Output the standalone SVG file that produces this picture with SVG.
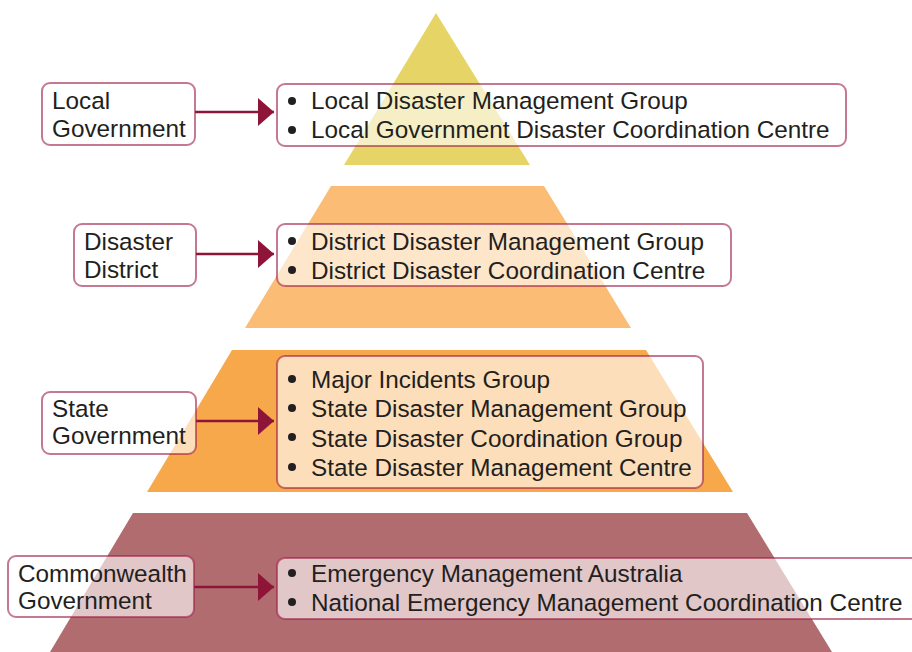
<svg xmlns="http://www.w3.org/2000/svg" width="912" height="652" viewBox="0 0 912 652">
  <style>
    .box { fill: #ffffff; fill-opacity: 0.62; stroke: #9E1F47; stroke-opacity: 0.6; stroke-width: 2; }
    .t { font-family: "Liberation Sans", Arial, sans-serif; font-size: 24.3px; fill: #231F20; }
    .dot { fill: #231F20; }
    .conn { stroke: #8E1538; stroke-width: 2.5; fill: none; }
  </style>
  <defs>
    <marker id="arr" viewBox="0 0 16 28" refX="16" refY="14" markerWidth="16" markerHeight="28" markerUnits="userSpaceOnUse" orient="auto">
      <path d="M0,0 L16,14 L0,28 Z" fill="#8E1538"/>
    </marker>
  </defs>
  <rect width="912" height="652" fill="#ffffff"/>

  <g id="pyramid">
    <polygon points="436,13 344,165 530,165" fill="#E6D566"/>
    <polygon points="331,186 544,186 631,328 245,328" fill="#FBBD76"/>
    <polygon points="232,350 646,350 733,492 147,492" fill="#F7A84A"/>
    <polygon points="133,513 747,513 832,652 50,652" fill="#B06C6E"/>
  </g>

  <g id="connectors">
    <line class="conn" x1="195" y1="112" x2="274" y2="112" marker-end="url(#arr)"/>
    <line class="conn" x1="196" y1="254" x2="274" y2="254" marker-end="url(#arr)"/>
    <line class="conn" x1="196" y1="421" x2="274" y2="421" marker-end="url(#arr)"/>
    <line class="conn" x1="194" y1="587" x2="274" y2="587" marker-end="url(#arr)"/>
  </g>

  <g id="local-government">
    <rect class="box" x="42" y="83" width="153" height="62" rx="8"/>
    <text class="t" x="52" y="109">Local</text>
    <text class="t" x="52" y="137">Government</text>
  </g>
  <g id="local-list">
    <rect class="box" x="277" y="84" width="569" height="62" rx="8"/>
    <circle class="dot" cx="292" cy="101" r="4"/>
    <text class="t" x="311" y="109">Local Disaster Management Group</text>
    <circle class="dot" cx="292" cy="130" r="4"/>
    <text class="t" x="311" y="138">Local Government Disaster Coordination Centre</text>
  </g>

  <g id="disaster-district">
    <rect class="box" x="74" y="224" width="122" height="62" rx="8"/>
    <text class="t" x="84" y="250">Disaster</text>
    <text class="t" x="84" y="278">District</text>
  </g>
  <g id="district-list">
    <rect class="box" x="277" y="224" width="454" height="62" rx="8"/>
    <circle class="dot" cx="292" cy="241" r="4"/>
    <text class="t" x="311" y="250">District Disaster Management Group</text>
    <circle class="dot" cx="292" cy="270" r="4"/>
    <text class="t" x="311" y="279">District Disaster Coordination Centre</text>
  </g>

  <g id="state-government">
    <rect class="box" x="42" y="392" width="154" height="62" rx="8"/>
    <text class="t" x="52" y="417">State</text>
    <text class="t" x="52" y="444">Government</text>
  </g>
  <g id="state-list">
    <rect class="box" x="277" y="356" width="426" height="132" rx="8"/>
    <circle class="dot" cx="292" cy="379" r="4"/>
    <text class="t" x="311" y="388">Major Incidents Group</text>
    <circle class="dot" cx="292" cy="408" r="4"/>
    <text class="t" x="311" y="417">State Disaster Management Group</text>
    <circle class="dot" cx="292" cy="437" r="4"/>
    <text class="t" x="311" y="447">State Disaster Coordination Group</text>
    <circle class="dot" cx="292" cy="467" r="4"/>
    <text class="t" x="311" y="476">State Disaster Management Centre</text>
  </g>

  <g id="commonwealth-government">
    <rect class="box" x="8" y="556" width="186" height="61" rx="8"/>
    <text class="t" x="18" y="582">Commonwealth</text>
    <text class="t" x="18" y="609">Government</text>
  </g>
  <g id="commonwealth-list">
    <rect class="box" x="277" y="558" width="660" height="61" rx="8"/>
    <circle class="dot" cx="292" cy="573" r="4"/>
    <text class="t" x="311" y="582">Emergency Management Australia</text>
    <circle class="dot" cx="292" cy="602" r="4"/>
    <text class="t" x="311" y="611">National Emergency Management Coordination Centre</text>
  </g>
</svg>
